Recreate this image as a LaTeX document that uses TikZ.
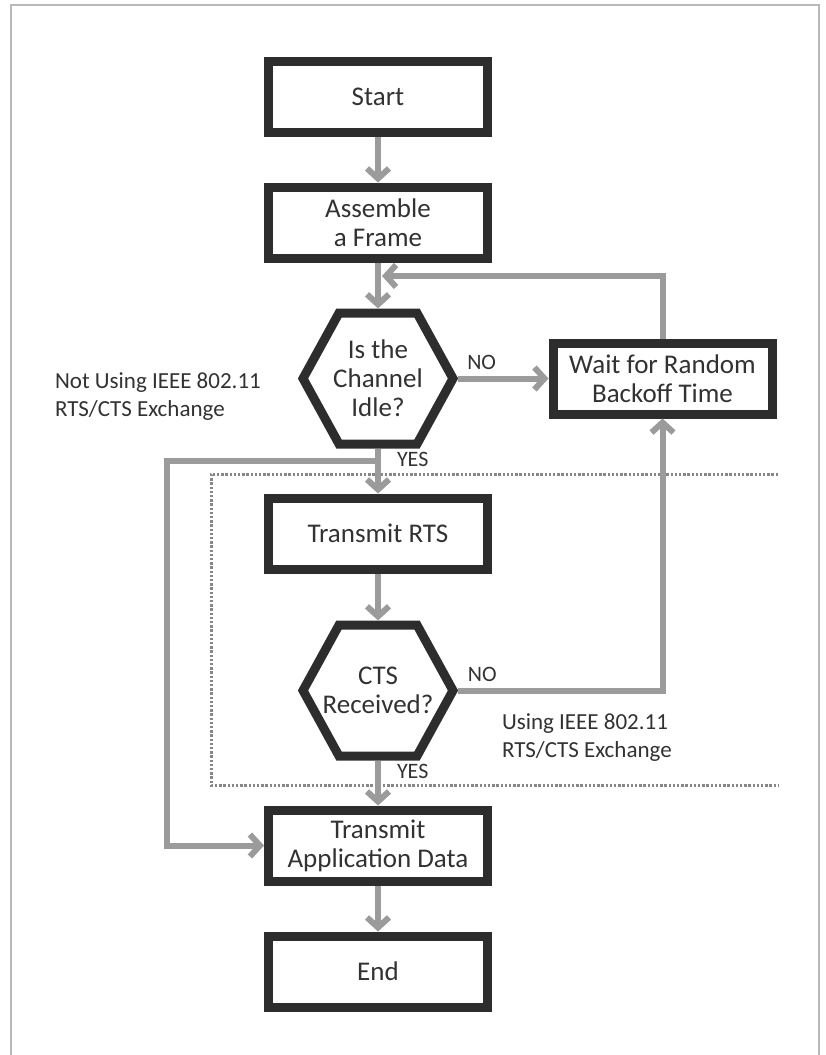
\documentclass[tikz,border=0pt]{standalone}
\usepackage{fontspec}
\setmainfont{Carlito}
\usetikzlibrary{arrows.meta,positioning}

\definecolor{boxline}{RGB}{45,45,45}
\definecolor{flowgray}{RGB}{155,155,155}
\definecolor{dotgray}{RGB}{135,135,135}
\definecolor{txtgray}{RGB}{50,50,50}
\definecolor{framegray}{RGB}{185,185,185}

% hexagon outline round a decision node
\newcommand{\drawdecision}[1]{%
  \draw[hexline] ([xshift=18pt]#1.north west) -- ([xshift=-18pt]#1.north east) -- (#1.east)
    -- ([xshift=-18pt]#1.south east) -- ([xshift=18pt]#1.south west) -- (#1.west) -- cycle;}

\begin{document}
\begin{tikzpicture}[
  x=0.5pt,y=-0.5pt,
  font=\fontsize{13.5}{14.5}\selectfont,text=txtgray,
  block/.style={draw=boxline,line width=4.5pt,fill=white,minimum width=109.5pt,minimum height=35.5pt,align=center},
  decision/.style={minimum width=75pt,minimum height=65.5pt,outer sep=0pt,align=center},
  hexline/.style={draw=boxline,line width=4.5pt},
  flow/.style={-{Straight Barb[length=5pt,width=11pt]},draw=flowgray,line width=3pt},
  lbl/.style={font=\fontsize{11}{13}\selectfont,inner sep=1pt},
  note/.style={align=left,font=\fontsize{11.5}{14}\selectfont},
  groupline/.style={draw=dotgray,line width=1.5pt,dash pattern=on 1.2pt off 0.9pt},
]
  \useasboundingbox (0,0) rectangle (825,1055);
  \draw[framegray,line width=0.8pt] (11,1055) |- (819,5) -- (819,1055);

  % RTS/CTS group
  \draw[groupline] (778,474) -| (211,785) -- (778,785);

  \node[block] (start) at (378,96.5) {Start};
  \node[block,below=23pt of start] (assemble) {Assemble\\a Frame};
  \node[decision,below=25.25pt of assemble] (idle) {Is the\\Channel\\Idle?};
  \drawdecision{idle}
  \node[block,right=47.75pt of idle] (wait) {Wait for Random\\Backoff Time};
  \node[block,below=24.75pt of idle] (rts) {Transmit RTS};
  \node[decision,below=25.75pt of rts] (cts) {CTS\\Received?};
  \drawdecision{cts}
  \node[block,below=24.75pt of cts] (data) {Transmit\\Application Data};
  \node[block,below=23pt of data] (finish) {End};

  \node[note,anchor=west] (notusing) at (48,397) {Not Using IEEE 802.11\\RTS/CTS Exchange};
  \node[note,anchor=west] (using) at (495,738) {Using IEEE 802.11\\RTS/CTS Exchange};

  \coordinate (merge) at (382,276);
  \coordinate (split) at (378,461);
  \coordinate (leftrail) at (167,461);

  \draw[flow] (start) -- (assemble);
  \draw[flow,shorten >=2.3pt] (assemble) -- (idle);
  \draw[flow,shorten <=2.6pt] (idle) -- node[lbl,above=2pt,pos=0.3]{NO} (wait);
  \draw[flow] (wait) |- (merge);
  \draw[flow,shorten <=2.3pt] (idle) -- node[lbl,right=7pt,pos=0.31]{YES} (rts);
  \draw[flow] (split) -- (leftrail) |- (data);
  \draw[flow,shorten >=2.3pt] (rts) -- (cts);
  \draw[flow,shorten <=2.6pt] (cts) -| node[lbl,above=2pt,pos=0.07]{NO} (wait);
  \draw[flow,shorten <=2.3pt] (cts) -- node[lbl,right=7pt,pos=0.32]{YES} (data);
  \draw[flow] (data) -- (finish);
\end{tikzpicture}
\end{document}
